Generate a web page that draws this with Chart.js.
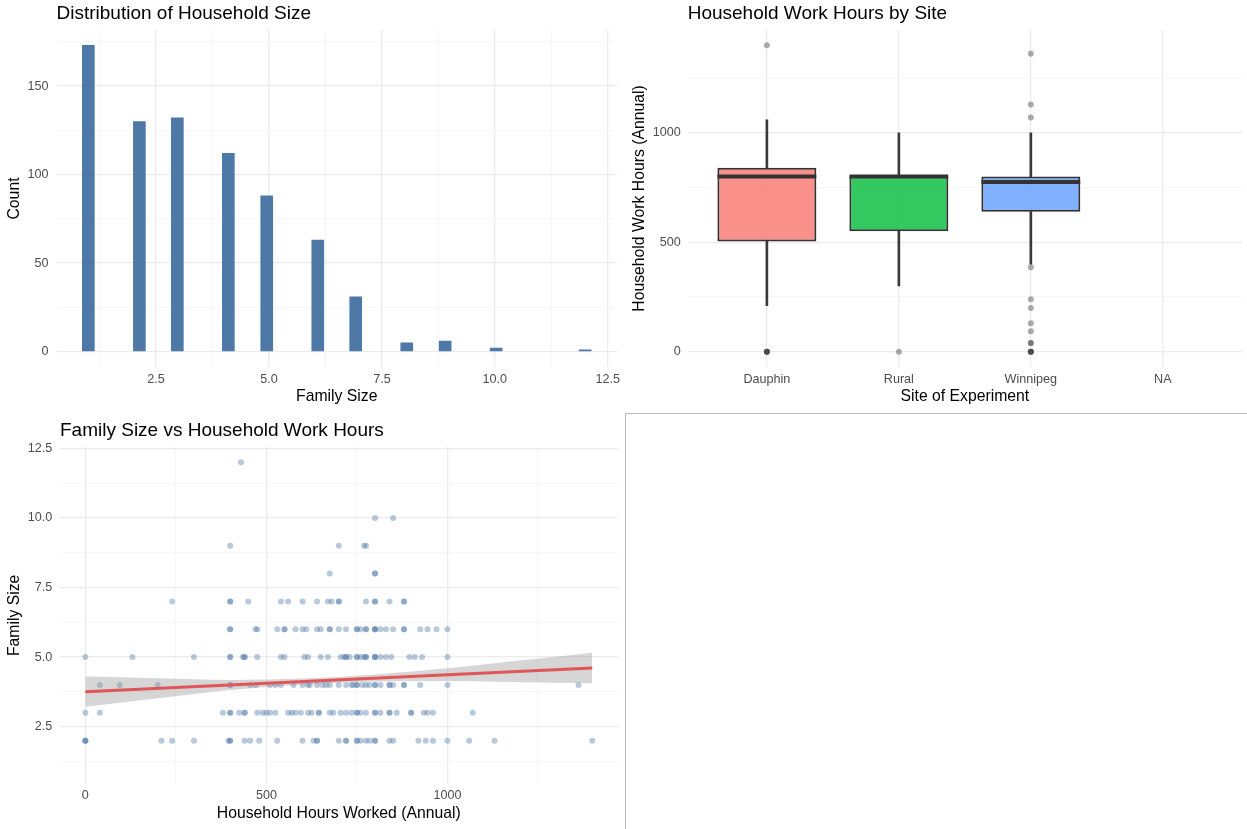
<!DOCTYPE html>
<html>
<head>
<meta charset="utf-8">
<script src="https://cdn.jsdelivr.net/npm/chart.js@4.4.1/dist/chart.umd.min.js"></script>
<style>
  body { margin: 0; background: #fff; width: 1247px; height: 829px; position: relative; overflow: hidden; }
  canvas { position: absolute; }
  #sep { position: absolute; left: 625px; top: 413px; width: 622px; height: 416px;
         border-left: 1px solid #bbb; border-top: 1px solid #bbb; }
</style>
</head>
<body>
<canvas id="hist" width="620" height="410" style="left:0;top:0"></canvas>
<canvas id="box" width="622" height="410" style="left:625px;top:0"></canvas>
<canvas id="scatter" width="625" height="419" style="left:0;top:410px"></canvas>
<div id="sep"></div>
<script>
// histogram of family size (bin centres, counts)
const binCenters = [1.0, 2.13, 2.97, 4.10, 4.95, 6.08, 6.92, 8.05, 8.90, 10.03, 12.0];
const binCounts = [173, 130, 132, 112, 88, 63, 31, 5, 6, 2, 1];

// boxplot of work hours by site
const sites = ['Dauphin', 'Rural', 'Winnipeg', 'NA'];
const boxQ1 = [504, 550, 640];
const boxMedian = [800, 800, 775];
const boxQ3 = [840, 802, 800];
const whiskerLow = [210, 300, 400];
const whiskerHigh = [1060, 1000, 1000];
const outliersDauphin = [1400, 0, 0, 0, 0];
const outliersRural = [0];
const outliersWinnipeg = [1362, 1130, 1070, 386, 240, 200, 130, 93, 40, 40, 0, 0, 0, 0];

// scatter: hours worked for each family size
const familySizes = [2, 3, 4, 5, 6, 7, 8, 9, 10, 12];
const hours2 = [0, 0, 0, 210, 240, 300, 395, 400, 400, 440, 455, 480, 530, 600, 630, 640, 640, 700, 720, 720,
  750, 750, 760, 775, 785, 800, 800, 840, 850, 920, 940, 960, 1000, 1060, 1130, 1400];
const hours3 = [0, 40, 380, 400, 400, 425, 440, 440, 475, 490, 500, 510, 525, 560, 570, 580, 595, 615, 625, 645,
  645, 675, 685, 705, 720, 735, 750, 750, 760, 775, 800, 800, 815, 840, 840, 860, 900, 900, 935, 945, 960, 1070];
const hours4 = [40, 95, 200, 400, 400, 455, 470, 510, 525, 540, 575, 600, 615, 620, 640, 655, 665, 675, 700, 720,
  735, 740, 750, 750, 765, 775, 785, 800, 800, 815, 840, 840, 850, 880, 880, 925, 1000, 1362];
const hours5 = [0, 130, 300, 400, 400, 435, 440, 440, 475, 540, 550, 605, 615, 650, 670, 705, 715, 720, 720, 730,
  750, 750, 760, 770, 775, 775, 800, 800, 800, 815, 830, 845, 895, 910, 930, 1000];
const hours6 = [400, 400, 470, 475, 530, 550, 550, 580, 600, 610, 640, 650, 675, 675, 700, 720, 750, 750, 760, 775,
  775, 800, 800, 800, 815, 830, 850, 880, 880, 925, 945, 970, 1000];
const hours7 = [240, 400, 400, 450, 540, 560, 600, 640, 670, 680, 700, 700, 775, 800, 800, 840, 880, 880];
const hours8 = [675, 800, 800];
const hours9 = [400, 700, 770, 775];
const hours10 = [800, 850];
const hours12 = [430];
const hoursBySize = [hours2, hours3, hours4, hours5, hours6, hours7, hours8, hours9, hours10, hours12];

// linear fit and its confidence band
const fitX = [0, 1400];
const fitY = [3.76, 4.61];
const ribbonX = [0, 200, 400, 600, 800, 1000, 1200, 1400];
const ribbonLo = [3.22, 3.52, 3.82, 4.01, 4.12, 4.14, 4.10, 4.06];
const ribbonHi = [4.30, 4.24, 4.18, 4.23, 4.38, 4.60, 4.88, 5.16];

const FONT = '"Liberation Sans", Arial, Helvetica, sans-serif';
Chart.defaults.font.family = FONT;
Chart.defaults.color = '#4D4D4D';
Chart.defaults.animation = false;

const panelTitle = {
  id: 'panelTitle',
  afterDraw(chart, args, opts) {
    const { ctx, chartArea } = chart;
    ctx.save();
    ctx.font = '19px ' + FONT;
    ctx.fillStyle = '#000';
    ctx.textBaseline = 'alphabetic';
    ctx.fillText(opts.text, chartArea.left, opts.y);
    ctx.restore();
  }
};

function axis(min, max, major, minor, fmt, title, size, titlePad, tickPad) {
  const ticks = major.concat(minor).sort((a, b) => a - b);
  return {
    type: 'linear', min, max, offset: false,
    afterBuildTicks: s => { s.ticks = ticks.map(v => ({ value: v })); },
    afterFit: s => {
      if (s.isHorizontal()) s.height = size; else s.width = size;
      s.paddingLeft = s.paddingRight = s.paddingTop = s.paddingBottom = 0;
    },
    ticks: {
      padding: tickPad, autoSkip: false, maxRotation: 0, color: '#4D4D4D', font: { size: 12.6 },
      callback: v => major.includes(v) ? fmt(v) : ''
    },
    grid: {
      drawTicks: false, offset: false,
      color: c => major.includes(c.tick.value) ? '#EBEBEB' : '#F3F3F3',
      lineWidth: c => major.includes(c.tick.value) ? 1.3 : 0.7
    },
    border: { display: false },
    title: { display: true, text: title, color: '#000', font: { size: 15.75 }, padding: titlePad }
  };
}

const oneDec = v => v.toFixed(1);
const plain = v => String(v);
const noLegend = { legend: { display: false }, tooltip: { enabled: false } };

// --- Distribution of Household Size
new Chart(document.getElementById('hist'), {
  type: 'bar',
  data: {
    datasets: [{
      data: binCenters.map((x, i) => ({ x, y: binCounts[i] })),
      backgroundColor: '#4E79A7',
      barThickness: 12
    }]
  },
  options: {
    responsive: false,
    layout: { autoPadding: false, padding: { top: 30, right: 3, left: 0, bottom: 0 } },
    plugins: { ...noLegend, panelTitle: { text: 'Distribution of Household Size', y: 19 } },
    scales: {
      x: axis(0.295, 12.705, [2.5, 5, 7.5, 10, 12.5], [1.25, 3.75, 6.25, 8.75, 11.25], oneDec,
        'Family Size', 43, { top: 0, bottom: 3.6 }, 4.7),
      y: axis(-8.65, 181.65, [0, 50, 100, 150], [25, 75, 125, 175], plain,
        'Count', 56.5, { top: 5.2, bottom: 0 }, 8)
    }
  },
  plugins: [panelTitle]
});

// --- Household Work Hours by Site
const boxes = boxQ1.map((q1, i) => ({ x: i + 1, y: [q1, boxQ3[i]] }));
const outliers = [outliersDauphin, outliersRural, outliersWinnipeg]
  .flatMap((list, i) => list.map(v => ({ x: i + 1, y: v })));

new Chart(document.getElementById('box'), {
  type: 'bar',
  data: {
    datasets: [
      {
        type: 'scatter',
        data: boxMedian.map((m, i) => ({ x: i + 1, y: m })),
        pointStyle: 'line', radius: 49.4, borderWidth: 4, borderColor: '#333333'
      },
      {
        data: boxes,
        backgroundColor: ['rgba(248,118,109,0.8)', 'rgba(0,186,56,0.8)', 'rgba(97,156,255,0.8)'],
        borderColor: '#333333', borderWidth: 2, borderSkipped: false,
        barPercentage: 0.75, categoryPercentage: 1, grouped: false
      },
      {
        data: boxQ3.map((q3, i) => ({ x: i + 1, y: [q3, whiskerHigh[i]] })),
        backgroundColor: '#3a3a3a', barThickness: 2, grouped: false
      },
      {
        data: whiskerLow.map((w, i) => ({ x: i + 1, y: [w, boxQ1[i]] })),
        backgroundColor: '#3a3a3a', barThickness: 2, grouped: false
      },
      {
        type: 'scatter',
        data: outliers,
        backgroundColor: 'rgba(51,51,51,0.4)', borderWidth: 0, radius: 3
      }
    ]
  },
  options: {
    responsive: false,
    layout: { autoPadding: false, padding: { top: 30, right: 5, left: 0, bottom: 0 } },
    plugins: { ...noLegend, panelTitle: { text: 'Household Work Hours by Site', y: 19 } },
    scales: {
      x: axis(0.4, 4.6, [1, 2, 3, 4], [], v => sites[v - 1],
        'Site of Experiment', 43, { top: 0, bottom: 3.6 }, 4.7),
      y: axis(-70, 1470, [0, 500, 1000], [250, 750, 1250], plain,
        'Household Work Hours (Annual)', 62.7, { top: 5.2, bottom: 0 }, 7)
    }
  },
  plugins: [panelTitle]
});

// --- Family Size vs Household Work Hours
const points = familySizes.flatMap((s, i) => hoursBySize[i].map(h => ({ x: h, y: s })));

new Chart(document.getElementById('scatter'), {
  type: 'scatter',
  data: {
    datasets: [
      {
        type: 'line',
        data: fitX.map((x, i) => ({ x, y: fitY[i] })),
        borderColor: '#E15759', borderWidth: 3, pointRadius: 0, fill: false
      },
      {
        type: 'line',
        data: ribbonX.map((x, i) => ({ x, y: ribbonHi[i] })),
        borderWidth: 0, pointRadius: 0, cubicInterpolationMode: 'monotone',
        fill: '+1', backgroundColor: 'rgba(153,153,153,0.4)'
      },
      {
        type: 'line',
        data: ribbonX.map((x, i) => ({ x, y: ribbonLo[i] })),
        borderWidth: 0, pointRadius: 0, cubicInterpolationMode: 'monotone', fill: false
      },
      {
        data: points,
        backgroundColor: 'rgba(78,121,167,0.4)', borderWidth: 0, radius: 3
      }
    ]
  },
  options: {
    responsive: false,
    layout: { autoPadding: false, padding: { top: 36.9, right: 7.4, left: 0, bottom: 0 } },
    plugins: { ...noLegend, panelTitle: { text: 'Family Size vs Household Work Hours', y: 25.7 } },
    scales: {
      x: axis(-70, 1470, [0, 500, 1000], [250, 750, 1250], plain,
        'Household Hours Worked (Annual)', 45.2, { top: 0, bottom: 6.2 }, 4.4),
      y: axis(0.45, 12.55, [2.5, 5, 7.5, 10, 12.5], [1.25, 3.75, 6.25, 8.75, 11.25], oneDec,
        'Family Size', 60, { top: 5.2, bottom: 0 }, 7.7)
    }
  },
  plugins: [panelTitle]
});
</script>
</body>
</html>
